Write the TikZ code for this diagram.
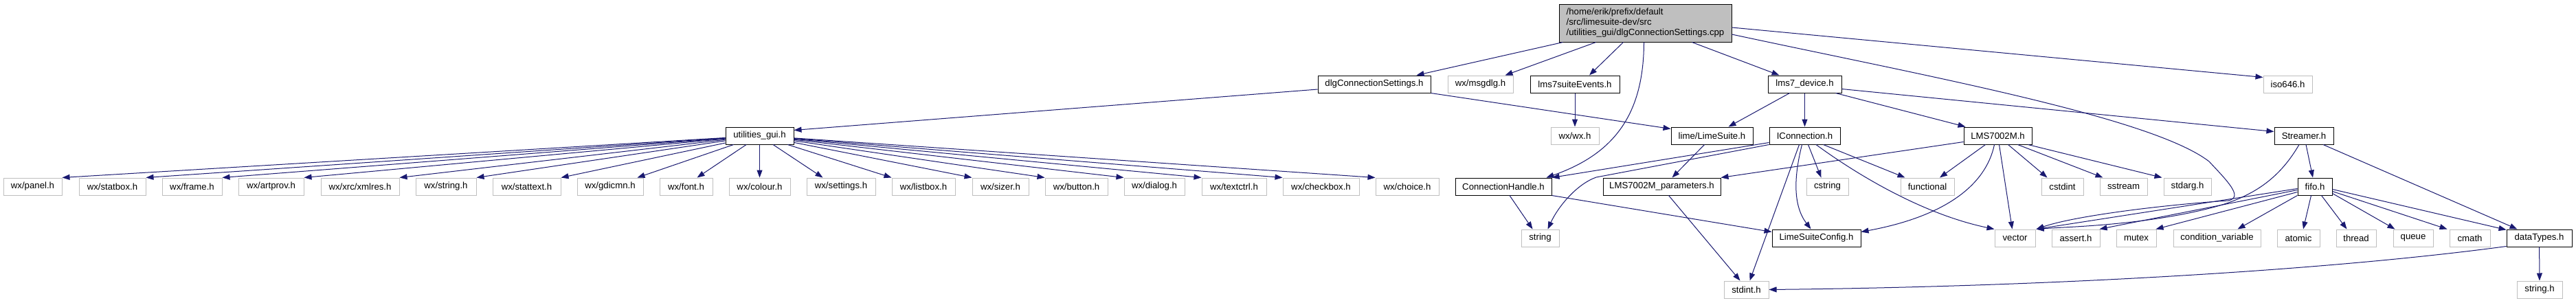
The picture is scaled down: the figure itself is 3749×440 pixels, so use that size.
\documentclass[tikz,border=0pt]{standalone}
\usepackage{fontspec}
\setmainfont{Liberation Sans}
\usetikzlibrary{arrows.meta}
\definecolor{edgec}{HTML}{191970}
\definecolor{gbord}{HTML}{BFBFBF}
\definecolor{mainfill}{HTML}{BFBFBF}
\newcommand\fsz{\fontsize{13.2}{15}\selectfont}
\begin{document}
\begin{tikzpicture}[x=1pt,y=-1pt,
  base/.style={inner sep=0pt, minimum height=25pt, font=\fsz, fill=white, line width=1pt},
  nb/.style={base, draw=black},
  ng/.style={base, draw=gbord},
  e/.style={draw=edgec, line width=1pt, -{Triangle[length=11pt,width=8pt]}}]
\fill[white] (0,0) rectangle (3749,440);
\useasboundingbox (0,0) rectangle (3749,440);
% row 0
\node[nb, fill=mainfill, minimum width=251pt, minimum height=55pt, align=left] (main) at (2394.5,33.5)
  {/home/erik/prefix/default\\/src/limesuite-dev/src\\/utilities\_gui/dlgConnectionSettings.cpp};
% row 1
\node[nb, minimum width=164pt] (dlg) at (2000,122.5) {dlgConnectionSettings.h};
\node[ng, minimum width=95pt] (msgdlg) at (2154.5,122.5) {wx/msgdlg.h};
\node[nb, minimum width=130pt] (lms7ev) at (2292,122.5) {lms7suiteEvents.h};
\node[nb, minimum width=107pt] (lms7dev) at (2626.5,122.5) {lms7\_device.h};
\node[ng, minimum width=71pt] (iso646) at (3329.5,122.5) {iso646.h};
% row 2
\node[nb, minimum width=99pt] (utilgui) at (1105.5,197.5) {utilities\_gui.h};
\node[ng, minimum width=70pt] (wxwx) at (2292,197.5) {wx/wx.h};
\node[nb, minimum width=119pt] (limesuite) at (2491.5,197.5) {lime/LimeSuite.h};
\node[nb, minimum width=103pt] (iconn) at (2626.5,197.5) {IConnection.h};
\node[nb, minimum width=99pt] (lms7002m) at (2907.5,197.5) {LMS7002M.h};
\node[nb, minimum width=86pt] (streamer) at (3353,197.5) {Streamer.h};
% row 3
\node[ng, minimum width=85pt] (panel) at (47.5,271.5) {wx/panel.h};
\node[ng, minimum width=97pt] (statbox) at (163.5,271.5) {wx/statbox.h};
\node[ng, minimum width=87pt] (frame) at (279.5,271.5) {wx/frame.h};
\node[ng, minimum width=95pt] (artprov) at (394.5,271.5) {wx/artprov.h};
\node[ng, minimum width=114pt] (xmlres) at (524,271.5) {wx/xrc/xmlres.h};
\node[ng, minimum width=88pt] (wxstring) at (649,271.5) {wx/string.h};
\node[ng, minimum width=99pt] (stattext) at (766.5,271.5) {wx/stattext.h};
\node[ng, minimum width=96pt] (gdicmn) at (888,271.5) {wx/gdicmn.h};
\node[ng, minimum width=77pt] (font) at (998.5,271.5) {wx/font.h};
\node[ng, minimum width=89pt] (colour) at (1105.5,271.5) {wx/colour.h};
\node[ng, minimum width=100pt] (settings) at (1224,271.5) {wx/settings.h};
\node[ng, minimum width=92pt] (listbox) at (1344,271.5) {wx/listbox.h};
\node[ng, minimum width=82pt] (sizer) at (1456,271.5) {wx/sizer.h};
\node[ng, minimum width=91pt] (button) at (1566.5,271.5) {wx/button.h};
\node[ng, minimum width=88pt] (dialog) at (1680,271.5) {wx/dialog.h};
\node[ng, minimum width=94pt] (textctrl) at (1796,271.5) {wx/textctrl.h};
\node[ng, minimum width=111pt] (checkbox) at (1922.5,271.5) {wx/checkbox.h};
\node[ng, minimum width=92pt] (choice) at (2048,271.5) {wx/choice.h};
\node[nb, minimum width=140pt] (connhandle) at (2188,271.5) {ConnectionHandle.h};
\node[nb, minimum width=171pt] (params) at (2418.5,271.5) {LMS7002M\_parameters.h};
\node[ng, minimum width=61pt] (cstring) at (2659.5,271.5) {cstring};
\node[ng, minimum width=78pt] (functional) at (2805,271.5) {functional};
\node[ng, minimum width=61pt] (cstdint) at (3001.5,271.5) {cstdint};
\node[ng, minimum width=69pt] (sstream) at (3090.5,271.5) {sstream};
\node[ng, minimum width=69pt] (stdarg) at (3183.5,271.5) {stdarg.h};
\node[nb, minimum width=50pt] (fifo) at (3369,271.5) {fifo.h};
% row 4
\node[ng, minimum width=55pt] (string) at (2241.5,346.5) {string};
\node[nb, minimum width=129pt] (limeconfig) at (2643.5,346.5) {LimeSuiteConfig.h};
\node[ng, minimum width=59pt] (vector) at (2932.5,346.5) {vector};
\node[ng, minimum width=70pt] (assert) at (3021,346.5) {assert.h};
\node[ng, minimum width=58pt] (mutex) at (3109,346.5) {mutex};
\node[ng, minimum width=127pt] (condvar) at (3226.5,346.5) {condition\_variable};
\node[ng, minimum width=62pt] (atomic) at (3345,346.5) {atomic};
\node[ng, minimum width=58pt] (thread) at (3429,346.5) {thread};
\node[ng, minimum width=58pt] (queue) at (3512,346.5) {queue};
\node[ng, minimum width=59pt] (cmath) at (3594.5,346.5) {cmath};
\node[nb, minimum width=95pt] (datatypes) at (3695.5,346.5) {dataTypes.h};
% row 5
\node[ng, minimum width=65pt] (stdint) at (2541.5,421.5) {stdint.h};
\node[ng, minimum width=66pt] (stringh) at (3696,421.5) {string.h};

% edges from main
\draw[e] ([xshift=6pt]main.south west) -- ([xshift=-21pt]dlg.north east);
\draw[e] ([xshift=54pt]main.south west) -- ([xshift=-12pt]msgdlg.north east);
\draw[e] ([xshift=94pt]main.south west) -- ([xshift=21pt]lms7ev.north);
\draw[e] ([xshift=124pt]main.south west) .. controls (2392,160) and (2355,222) .. ([xshift=-8pt]connhandle.north east);
\draw[e] ([xshift=194pt]main.south west) -- ([xshift=17pt]lms7dev.north west);
\draw[e] ([yshift=-6.5pt]main.east) -- ([yshift=-3pt]iso646.north west);
\draw[e] ([yshift=-16.5pt]main.east) .. controls (2800,110) and (3130,170) .. (3215,235)
  .. controls (3240,262) and (3266,287) .. (3243,292)
  .. controls (3150,298) and (3020,314) .. ([xshift=1pt]vector.north east);
% dlg
\draw[e] ([yshift=-7.5pt]dlg.west) -- ([yshift=-5pt]utilgui.north east);
\draw[e] (dlg.south east) -- ([yshift=-3pt]limesuite.north west);
% lms7suiteEvents
\draw[e] (lms7ev) -- (wxwx);
% lms7_device
\draw[e] ([xshift=-22pt]lms7dev.south) -- ([xshift=24pt]limesuite.north);
\draw[e] (lms7dev) -- (iconn);
\draw[e] ([xshift=-9pt]lms7dev.south east) -- ([xshift=3pt]lms7002m.north west);
\draw[e] ([yshift=-7pt]lms7dev.east) -- ([yshift=-7pt]streamer.north west);
% utilities_gui
\foreach \nm in {panel,statbox,frame,artprov,xmlres,wxstring,stattext}
  \draw[e] (utilgui) -- (\nm.north east);
\draw[e] (utilgui) -- ([xshift=-9pt]gdicmn.north east);
\draw[e] (utilgui) -- ([xshift=16pt]font.north);
\draw[e] (utilgui) -- (colour);
\draw[e] (utilgui) -- ([xshift=24pt]settings.north west);
\foreach \nm in {listbox,sizer,button,dialog,textctrl,checkbox,choice}
  \draw[e] (utilgui) -- (\nm.north west);
% lime/LimeSuite
\draw[e] ([xshift=-11pt]limesuite.south) -- ([xshift=15pt]params.north);
% IConnection
\draw[e] ([yshift=-10pt]iconn.west) -- (connhandle.north east);
\draw[e] (iconn.south west) -- (2323,258) .. controls (2295,268) and (2268,300) .. ([xshift=-17pt]string.north east);
\draw[e] ([xshift=-8pt]iconn.south) -- ([xshift=5pt]stdint.north);
\draw[e] ([xshift=-4pt]iconn.south) .. controls (2610,260) and (2610,300) .. ([xshift=-8pt]limeconfig.north);
\draw[e] ([xshift=5pt]iconn.south) -- ([xshift=-9pt]cstring.north);
\draw[e] ([xshift=-25pt]iconn.south east) -- ([xshift=7pt]functional.north west);
\draw[e] ([xshift=16.5pt]iconn.south) .. controls (2690,245) and (2790,310) .. (vector.north west);
% LMS7002M
\draw[e] ([yshift=-9pt]lms7002m.west) -- (params.north east);
\draw[e] ([xshift=32pt]lms7002m.south west) -- ([xshift=18pt]functional.north);
\draw[e] ([xshift=45pt]lms7002m.south west) .. controls (2890,270) and (2830,315) .. ([yshift=-4pt]limeconfig.north east);
\draw[e] ([xshift=52pt]lms7002m.south west) -- ([xshift=-4pt]vector.north);
\draw[e] ([xshift=65pt]lms7002m.south west) -- ([xshift=9pt]cstdint.north west);
\draw[e] ([xshift=79pt]lms7002m.south west) -- ([xshift=5pt]sstream.north west);
\draw[e] ([xshift=94pt]lms7002m.south west) -- ([xshift=-2pt]stdarg.north west);
% Streamer
\draw[e] ([xshift=3pt]streamer.south) -- ([xshift=-3pt]fifo.north);
\draw[e] ([xshift=28pt]streamer.south) -- ([xshift=16pt]datatypes.north west);
\draw[e] ([xshift=-7pt]streamer.south) .. controls (3320,255) and (3285,285) .. (3220,302)
  .. controls (3120,328) and (3010,330) .. ([xshift=1pt]vector.north east);
% fifo
\draw[e] ([yshift=-3pt]fifo.west) -- ([xshift=1pt]vector.north east);
\draw[e] ([yshift=-5pt]fifo.west) -- ([xshift=-1pt]assert.north east);
\draw[e] ([yshift=-8pt]fifo.west) -- ([xshift=-1pt]mutex.north east);
\draw[e] (fifo.south west) -- ([xshift=30pt]condvar.north);
\draw[e] ([xshift=20pt]fifo.south west) -- ([xshift=7pt]atomic.north);
\draw[e] ([xshift=35pt]fifo.south west) -- ([xshift=16pt]thread.north west);
\draw[e] ([yshift=-10pt]fifo.east) -- ([xshift=3pt]queue.north west);
\draw[e] ([yshift=-7pt]fifo.east) -- ([xshift=-3pt]cmath.north west);
\draw[e] ([yshift=-4pt]fifo.east) -- ([yshift=-1pt]datatypes.north west);
% dataTypes
\draw[e] (datatypes) -- (stringh);
\draw[e] ([yshift=1pt]datatypes.south west) .. controls (3400,392) and (3000,417) .. (stdint.east);
% LMS7002M_parameters
\draw[e] ([xshift=10pt]params.south) -- ([xshift=-9pt]stdint.north);
% ConnectionHandle
\draw[e] ([xshift=9pt]connhandle.south) -- ([xshift=-11pt]string.north);
\draw[e] (connhandle.south east) -- ([yshift=-4pt]limeconfig.north west);
\end{tikzpicture}
\end{document}
